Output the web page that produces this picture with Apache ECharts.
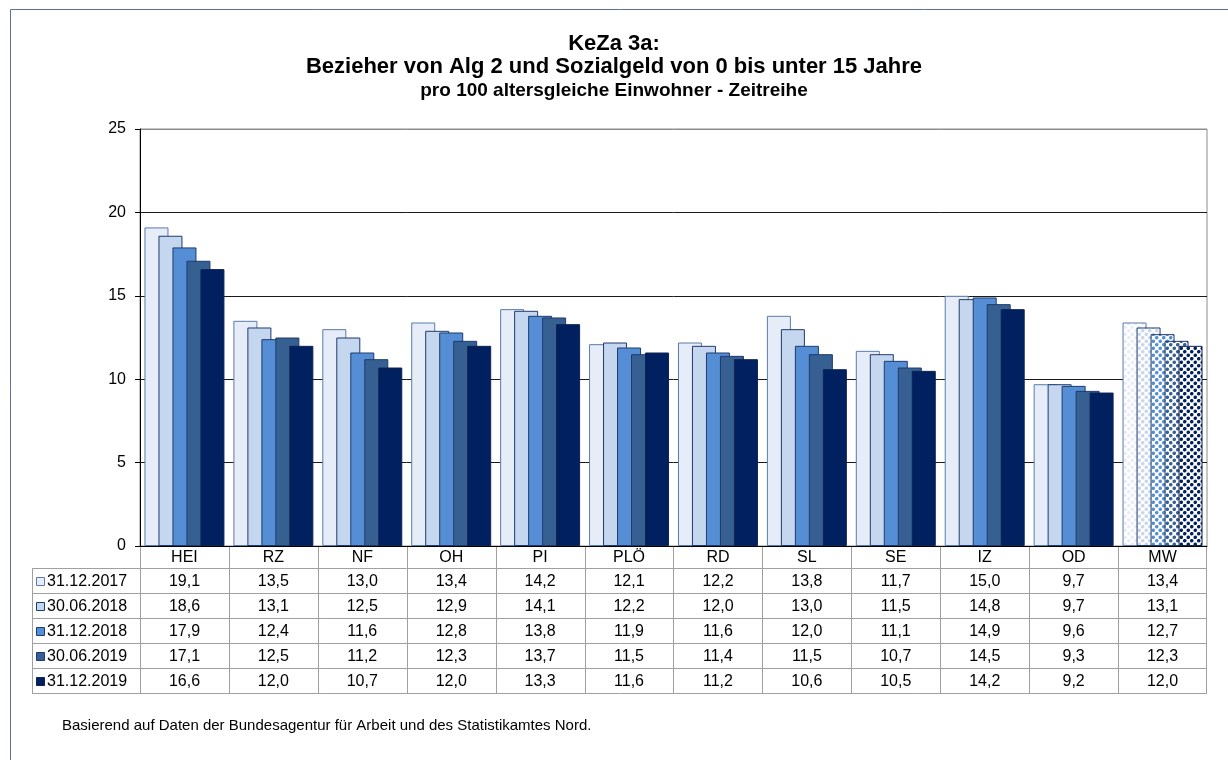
<!DOCTYPE html>
<html>
<head>
<meta charset="utf-8">
<script src="https://cdn.jsdelivr.net/npm/echarts@6/dist/echarts.min.js"></script>
<style>
    html, body { margin: 0; padding: 0; background: #fff; }
    #chart { width: 1228px; height: 760px; }
</style>
</head>
<body>
<div id="chart"></div>
<script>
// Kreise / Zeitpunkte
const categories = ['HEI', 'RZ', 'NF', 'OH', 'PI', 'PLÖ', 'RD', 'SL', 'SE', 'IZ', 'OD', 'MW'];
const seriesNames = ['31.12.2017', '30.06.2018', '31.12.2018', '30.06.2019', '31.12.2019'];
const v2017_12 = [19.1, 13.5, 13.0, 13.4, 14.2, 12.1, 12.2, 13.8, 11.7, 15.0, 9.7, 13.4];
const v2018_06 = [18.6, 13.1, 12.5, 12.9, 14.1, 12.2, 12.0, 13.0, 11.5, 14.8, 9.7, 13.1];
const v2018_12 = [17.9, 12.4, 11.6, 12.8, 13.8, 11.9, 11.6, 12.0, 11.1, 14.9, 9.6, 12.7];
const v2019_06 = [17.1, 12.5, 11.2, 12.3, 13.7, 11.5, 11.4, 11.5, 10.7, 14.5, 9.3, 12.3];
const v2019_12 = [16.6, 12.0, 10.7, 12.0, 13.3, 11.6, 11.2, 10.6, 10.5, 14.2, 9.2, 12.0];
const seriesValues = [v2017_12, v2018_06, v2018_12, v2019_06, v2019_12];
const yMin = 0, yMax = 25, yStep = 5;

const colors = ['#E6EDF8', '#C5D7EF', '#558ED5', '#366092', '#002060'];
const borders = ['#5A7BAA', '#1F3A6E', '#1F3A6E', '#1F3A6E', '#0F2352'];
const font = 'Arial, "Liberation Sans", sans-serif';

// Muster fuer den Mittelwert (MW)
function makePattern(color) {
    const c = document.createElement('canvas');
    c.width = 7;
    c.height = 7;
    const ctx = c.getContext('2d');
    ctx.fillStyle = '#fff';
    ctx.fillRect(0, 0, 7, 7);
    ctx.fillStyle = color;
    [[1.75, 1.75], [5.25, 5.25]].forEach(p => {
        ctx.beginPath();
        ctx.arc(p[0], p[1], 1.8, 0, Math.PI * 2);
        ctx.fill();
    });
    return c;
}

const chart = echarts.init(document.getElementById('chart'));
const gridLeft = 140, gridRight = 21, gridTop = 129, gridBottom = 214;

const series = seriesValues.map((vals, s) => ({
    type: 'bar',
    name: seriesNames[s],
    barWidth: 24,
    barGap: '-41.7%',
    data: vals.map((v, i) => {
        if (categories[i] !== 'MW') return v;
        return {
            value: v,
            itemStyle: {color: {image: makePattern(colors[s]), repeat: 'repeat'}}
        };
    }),
    itemStyle: {color: colors[s], borderColor: borders[s], borderWidth: 1},
    emphasis: {disabled: true},
    animation: false
}));

const titleStyle = {fontFamily: font, fontWeight: 'bold', color: '#000'};

chart.setOption({
    animation: false,
    title: [
        {text: 'KeZa 3a:', left: 'center', top: 28, textStyle: Object.assign({fontSize: 22}, titleStyle)},
        {
            text: 'Bezieher von Alg 2 und Sozialgeld von 0 bis unter 15 Jahre',
            left: 'center', top: 51, textStyle: Object.assign({fontSize: 22}, titleStyle)
        },
        {
            text: 'pro 100 altersgleiche Einwohner - Zeitreihe',
            left: 'center', top: 76, textStyle: Object.assign({fontSize: 19}, titleStyle)
        }
    ],
    grid: {
        left: gridLeft, right: gridRight, top: gridTop, bottom: gridBottom,
        show: true, borderColor: '#8C8C8C', borderWidth: 1
    },
    xAxis: {
        type: 'category',
        data: categories,
        axisLine: {show: true, lineStyle: {color: '#000'}},
        axisTick: {show: false},
        axisLabel: {show: false}
    },
    yAxis: {
        type: 'value',
        min: yMin,
        max: yMax,
        interval: yStep,
        axisLine: {show: true, lineStyle: {color: '#000'}},
        axisTick: {show: true, length: 5, lineStyle: {color: '#000'}},
        axisLabel: {fontFamily: font, fontSize: 16, color: '#000', margin: 14},
        splitLine: {
            show: true,
            lineStyle: {color: ['#1A1A1A', '#1A1A1A', '#1A1A1A', '#1A1A1A', '#1A1A1A', '#8C8C8C'], width: 1}
        }
    },
    series: series
});

// Datentabelle unter dem Diagramm
const tableTop = 546, headH = 22, rowH = 25, legendLeft = 32;
const catW = (1228 - gridLeft - gridRight) / categories.length;
const tableRight = gridLeft + catW * categories.length;
const tableBottom = tableTop + headH + rowH * seriesNames.length;
const lineStyle = {stroke: '#A0A0A0', lineWidth: 1};
const g = [];

function hLine(x1, x2, y) {
    g.push({type: 'line', shape: {x1: x1, y1: y + 0.5, x2: x2, y2: y + 0.5}, style: lineStyle, silent: true});
}
function vLine(x, y1, y2) {
    g.push({type: 'line', shape: {x1: x + 0.5, y1: y1, x2: x + 0.5, y2: y2}, style: lineStyle, silent: true});
}
function txt(x, y, s, align) {
    g.push({
        type: 'text', x: x, y: y, silent: true,
        style: {text: s, fontFamily: font, fontSize: 16, fill: '#000', align: align || 'center', verticalAlign: 'middle'}
    });
}

// horizontale Linien
hLine(gridLeft, tableRight, tableTop + headH);
for (let r = 1; r <= seriesNames.length; r++) {
    hLine(legendLeft, tableRight, tableTop + headH + rowH * r);
}
hLine(legendLeft, gridLeft, tableTop + headH);
// vertikale Linien
vLine(legendLeft, tableTop + headH, tableBottom);
for (let i = 0; i <= categories.length; i++) {
    const x = Math.round(chart.convertToPixel({xAxisIndex: 0}, i) - catW / 2);
    vLine(i === categories.length ? Math.round(tableRight) - 1 : x, tableTop, tableBottom);
}

// Kopfzeile
categories.forEach((c, i) => {
    txt(chart.convertToPixel({xAxisIndex: 0}, i), tableTop + headH / 2 + 1, c);
});
// Legende + Werte
seriesNames.forEach((name, s) => {
    const cy = tableTop + headH + rowH * s + rowH / 2 + 1;
    g.push({
        type: 'rect', silent: true,
        shape: {x: legendLeft + 4.5, y: Math.round(cy) - 4.5, width: 8, height: 8},
        style: {fill: colors[s], stroke: borders[s], lineWidth: 1}
    });
    txt(legendLeft + 15, cy, name, 'left');
    seriesValues[s].forEach((v, i) => {
        txt(chart.convertToPixel({xAxisIndex: 0}, i), cy, v.toFixed(1).replace('.', ','));
    });
});

// Quelle
g.push({
    type: 'text', x: 62, y: 726, silent: true,
    style: {
        text: 'Basierend auf Daten der Bundesagentur für Arbeit und des Statistikamtes Nord.',
        fontFamily: font, fontSize: 15, fill: '#000', verticalAlign: 'middle'
    }
});
// Rahmen
g.push({
    type: 'rect', silent: true,
    shape: {x: 10.5, y: 9.5, width: 1240, height: 800},
    style: {fill: null, stroke: '#5B7396', lineWidth: 1}
});

chart.setOption({graphic: g});
</script>
</body>
</html>
